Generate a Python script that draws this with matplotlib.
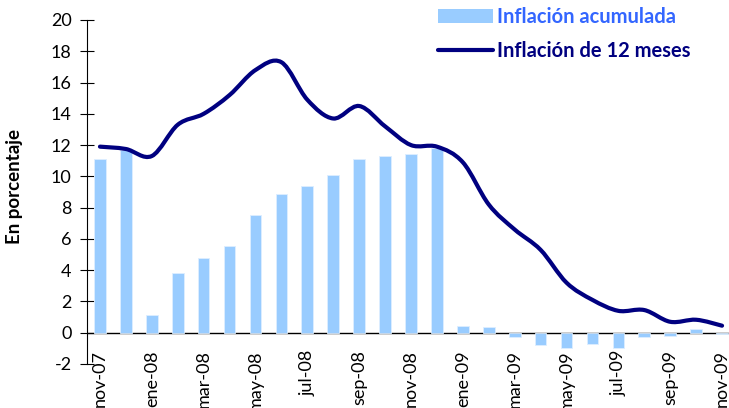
import matplotlib
matplotlib.use("Agg")
import matplotlib.pyplot as plt
import numpy as np
from matplotlib.path import Path
from matplotlib.patches import PathPatch, Patch
from matplotlib.lines import Line2D

plt.rcParams['font.family'] = ['Lato', 'DejaVu Sans']
plt.rcParams['axes.unicode_minus'] = False

months = ["nov-07", "dic-07", "ene-08", "feb-08", "mar-08", "abr-08", "may-08", "jun-08",
          "jul-08", "ago-08", "sep-08", "oct-08", "nov-08", "dic-08", "ene-09", "feb-09",
          "mar-09", "abr-09", "may-09", "jun-09", "jul-09", "ago-09", "sep-09", "oct-09", "nov-09"]
acumulada = [11.1, 11.7, 1.15, 3.8, 4.8, 5.55, 7.55, 8.9, 9.4, 10.1, 11.1, 11.3, 11.4, 11.8,
             0.4, 0.35, -0.3, -0.8, -0.95, -0.75, -0.95, -0.3, -0.2, 0.25, -0.1]
doce_meses = [11.9, 11.75, 11.3, 13.3, 14.0, 15.2, 16.8, 17.3, 14.9, 13.7, 14.5, 13.2, 12.0,
              11.9, 10.9, 8.2, 6.6, 5.3, 3.2, 2.1, 1.4, 1.45, 0.7, 0.83, 0.45]
label_bar = "Inflación acumulada"
label_line = "Inflación de 12 meses"
ylabel = "En porcentaje"

BAR_C = "#99CCFF"
LINE_C = "#000080"

fig = plt.figure(figsize=(7.29, 4.08), dpi=100)
W, H = 729, 408
x0, x1 = 87, 735
ytop, ybot = 20, 364
ax = fig.add_axes([x0 / W, (H - ybot) / H, (x1 - x0) / W, (ybot - ytop) / H])

x = np.arange(len(months))
ax.bar(x, acumulada, width=0.45, color=BAR_C, edgecolor="#DDEEFF", linewidth=0.6, zorder=2)
ax.axhline(0, color="black", linewidth=1.0, zorder=1)

# smooth line (Bezier through data points, like a spreadsheet smoothed line)
pts = np.column_stack([x, doce_meses]).astype(float)
verts = [tuple(pts[0])]
codes = [Path.MOVETO]
n = len(pts)
for i in range(n - 1):
    p0 = pts[i - 1] if i > 0 else pts[i]
    p1 = pts[i]
    p2 = pts[i + 1]
    p3 = pts[i + 2] if i + 2 < n else pts[i + 1]
    c1 = p1 + (p2 - p0) / 6.0
    c2 = p2 - (p3 - p1) / 6.0
    verts += [tuple(c1), tuple(c2), tuple(p2)]
    codes += [Path.CURVE4, Path.CURVE4, Path.CURVE4]
ax.add_patch(PathPatch(Path(verts, codes), facecolor="none", edgecolor=LINE_C,
                       linewidth=3.0, capstyle="round", joinstyle="round", zorder=3))

ax.set_xlim(-0.5, len(months) - 0.5)
ax.set_ylim(-2, 20)
ax.set_yticks(np.arange(-2, 21, 2))
ax.set_xticks(x[::2])
ax.set_xticklabels(months[::2], rotation=90, fontsize=13)
ax.tick_params(axis="x", length=0, pad=-10)
ax.tick_params(axis="y", direction="inout", length=10, width=0.8, labelsize=13, pad=6)
for s in ["top", "right", "bottom"]:
    ax.spines[s].set_visible(False)
ax.spines["left"].set_linewidth(0.8)

fig.text(15 / W, 1 - 187 / H, ylabel, rotation=90, fontsize=13.5, fontweight="bold",
         ha="center", va="center")

handles = [Patch(facecolor=BAR_C, edgecolor="none"),
           Line2D([0], [0], color=LINE_C, linewidth=3.0, solid_capstyle="round")]
leg = fig.legend(handles, [label_bar, label_line], loc="upper left",
                 bbox_to_anchor=(438 / W, 1 - 7 / H), frameon=False,
                 handlelength=2.75, handleheight=0.75, handletextpad=0.2,
                 labelspacing=0.7, borderpad=0, borderaxespad=0,
                 prop={"weight": "bold", "size": 14.5})
for t, c in zip(leg.get_texts(), ["#3366FF", LINE_C]):
    t.set_color(c)

fig.savefig("out.png", dpi=100)
